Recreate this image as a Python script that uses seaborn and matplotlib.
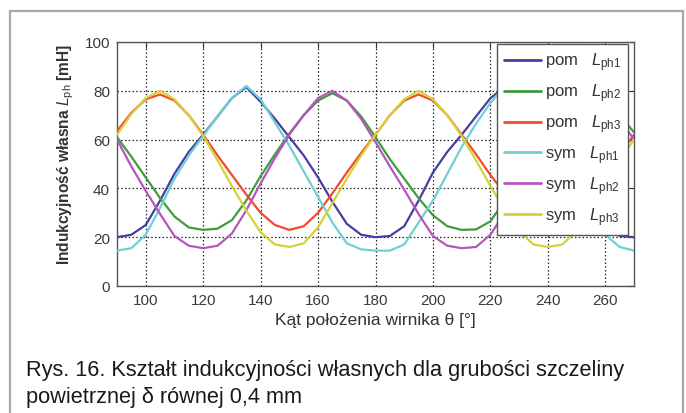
import numpy as np
import pandas as pd
import seaborn as sns
import matplotlib
matplotlib.use("Agg")
import matplotlib.pyplot as plt
from matplotlib.patches import Rectangle
from matplotlib.lines import Line2D

# ---------------- data ----------------
theta = [90, 95, 100, 105, 110, 115, 120, 125, 130, 135, 140, 145, 150, 155, 160, 165,
         170, 175, 180, 185, 190, 195, 200, 205, 210, 215, 220, 225, 230, 235, 240, 245,
         250, 255, 260, 265, 270]

pom_ph1 = [20, 21, 25, 35, 46, 55, 62, 69.5, 77, 81.5, 75.5, 68.5, 61, 53.5, 44.5, 34.5,
           25.5, 21, 20, 20.5, 24.5, 35, 46.5, 55, 62, 69.5, 77, 81.5, 75.5, 68.5, 61, 53.5,
           44.5, 35, 24, 20.5, 20]
pom_ph2 = [61, 53, 44.5, 36, 28.5, 24, 23, 23.5, 27, 35, 45, 54, 62.5, 70, 76, 79,
           76, 69.5, 61, 52, 44, 36, 29, 24.5, 23, 23.2, 26.5, 35, 44, 53, 61.5, 69.5,
           75.5, 79, 76, 70, 63]
pom_ph3 = [63.5, 71, 76.5, 78.5, 76, 70, 62, 53.5, 45.5, 37.5, 30, 25, 23, 24.5, 30, 38,
           46.5, 54.5, 62, 70, 76, 78.5, 76, 70, 62, 54, 45.5, 38, 30.5, 25, 23, 24.5,
           29, 37, 45.5, 54, 62]
sym_ph1 = [14.5, 15.5, 21, 32, 44, 53.5, 61.5, 69.5, 77, 82, 76.5, 67, 57.5, 47, 36.5, 26,
           17.5, 15, 14.5, 14.5, 17, 26, 35, 46, 57, 66.5, 75, 82, 76.5, 67, 57.5, 47,
           37, 28, 21, 16, 14.5]
sym_ph2 = [60, 49, 39, 29.5, 20.5, 16.5, 15.5, 16.5, 21.5, 31, 42, 52.5, 62, 70, 77, 80,
           76, 68.5, 59, 49, 39.5, 29.5, 20.5, 16.5, 15.5, 16, 21, 30, 41, 52, 62, 70,
           77, 80, 76, 68.5, 60]
sym_ph3 = [62, 70.5, 77, 80, 76.5, 70, 61.5, 51.5, 41, 31, 22, 17, 16, 17.5, 24, 34,
           44, 53.5, 62, 70, 76.5, 80, 76.5, 70, 61.5, 51.5, 41, 31, 22.5, 17, 16, 17,
           22.5, 32, 42, 51.5, 60]

series_names = ["pom ph1", "pom ph2", "pom ph3", "sym ph1", "sym ph2", "sym ph3"]
legend_labels = [r"pom   $L_{\mathrm{ph1}}$", r"pom   $L_{\mathrm{ph2}}$", r"pom   $L_{\mathrm{ph3}}$",
                 r"sym   $L_{\mathrm{ph1}}$", r"sym   $L_{\mathrm{ph2}}$", r"sym   $L_{\mathrm{ph3}}$"]
colors = ["#473da3", "#3f9c3f", "#f24a2c", "#6fd0d3", "#b556be", "#d6d136"]

x_ticks = [100, 120, 140, 160, 180, 200, 220, 240, 260]
y_ticks = [0, 20, 40, 60, 80, 100]

caption = ("Rys. 16. Kształt indukcyjności własnych dla grubości szczeliny\n"
           "powietrznej δ równej 0,4 mm")

# ---------------- long table ----------------
values = [pom_ph1, pom_ph2, pom_ph3, sym_ph1, sym_ph2, sym_ph3]
frames = []
for name, vals in zip(series_names, values):
    frames.append(pd.DataFrame({"theta": theta, "L": vals, "series": name}))
df = pd.concat(frames, ignore_index=True)

# ---------------- style ----------------
sns.set_theme(style="white")
plt.rcParams["font.family"] = ["Liberation Sans", "DejaVu Sans"]
plt.rcParams["mathtext.fontset"] = "custom"
plt.rcParams["mathtext.rm"] = "Liberation Sans"
plt.rcParams["mathtext.it"] = "Liberation Sans:italic"
plt.rcParams["mathtext.bf"] = "Liberation Sans:bold"

fig = plt.figure(figsize=(6.86, 4.14), dpi=100)
fig.patch.set_facecolor("white")

# outer frame
fig.patches.append(Rectangle((10 / 686, -0.05), 673 / 686, 1.05 - 12 / 414,
                             transform=fig.transFigure, fill=False,
                             edgecolor="#a8a8a8", linewidth=1.6, zorder=0))

ax = fig.add_axes([117 / 686, 1 - 287 / 414, 517 / 686, 244 / 414])

palette = dict(zip(series_names, colors))
sns.lineplot(data=df, x="theta", y="L", hue="series", hue_order=series_names,
             palette=palette, linewidth=1.6, ax=ax, legend=False, zorder=3)

ax.set_xlim(90, 270)
ax.set_ylim(0, 100)
ax.set_xticks(x_ticks)
ax.set_yticks(y_ticks)
ax.grid(True, color="#222222", linestyle=(0, (1.2, 1.8)), linewidth=0.9)
ax.set_axisbelow(True)
for s in ax.spines.values():
    s.set_color("#555555")
    s.set_linewidth(1.0)
    s.set_visible(True)
ax.tick_params(direction="in", length=4, width=0.8, color="#333333",
               top=True, right=True, labelsize=11, labelcolor="#3a3a3a", pad=5)

ax.set_xlabel("Kąt położenia wirnika θ [°]", fontsize=12.5, color="#333333", labelpad=4)
ax.set_ylabel(r"Indukcyjność własna $L_{\mathrm{ph}}$ [mH]", fontsize=11.2,
              color="#333333", fontweight="bold")
ax.yaxis.set_label_coords(-0.08, 0.545)

handles = [Line2D([0], [0], color=c, linewidth=2.0) for c in colors]
leg = ax.legend(handles, legend_labels, loc="upper right",
                bbox_to_anchor=(0.988, 0.992), borderaxespad=0,
                frameon=True, fancybox=False, fontsize=12,
                handlelength=2.2, handletextpad=0.25, labelspacing=0.5,
                borderpad=0.4)
leg.get_frame().set_edgecolor("#555555")
leg.get_frame().set_linewidth(1.0)
leg.get_frame().set_alpha(1.0)
for t in leg.get_texts():
    t.set_color("#333333")
leg.set_zorder(10)

fig.text(26 / 686, 1 - 360 / 414, caption, fontsize=15.7, color="#1a1a1a",
         family=["Liberation Sans", "DejaVu Sans"],
         va="top", ha="left", linespacing=1.4)

fig.savefig("out.png", dpi=100, facecolor="white")
